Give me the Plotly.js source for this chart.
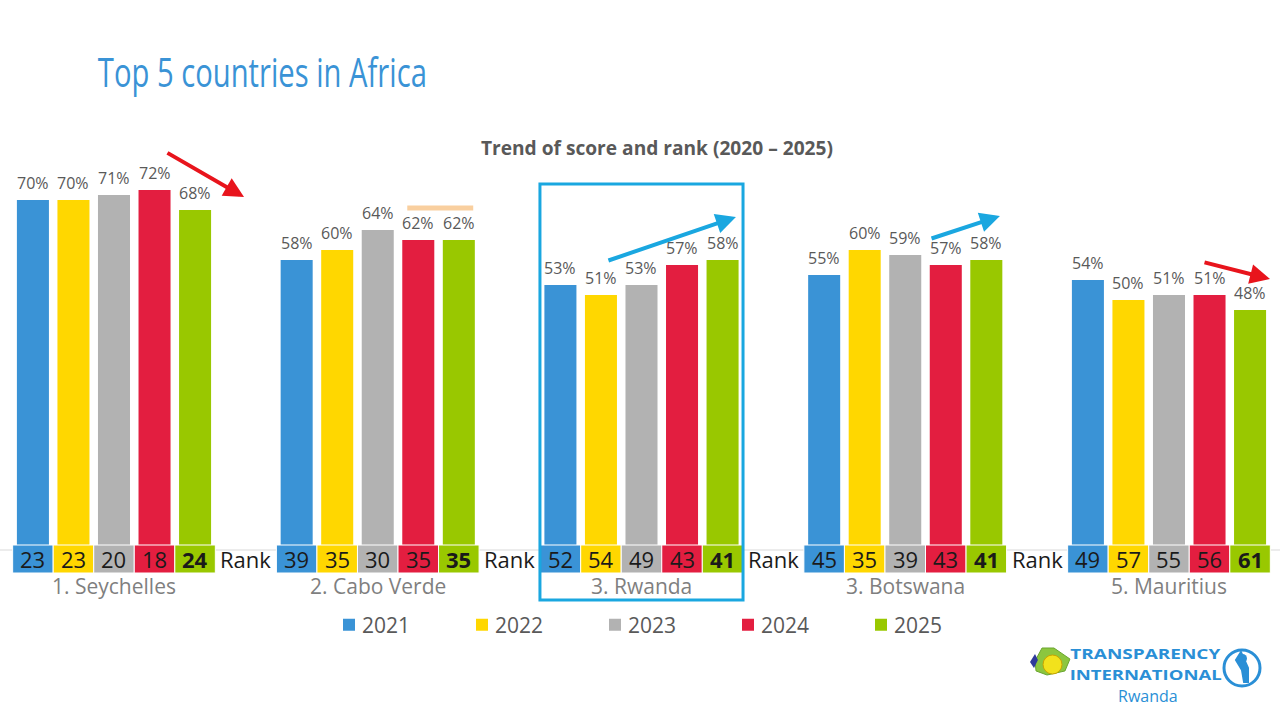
<!DOCTYPE html>
<html><head><meta charset="utf-8">
<script src="https://cdn.plot.ly/plotly-3.0.1.min.js"></script>
<style>html,body{margin:0;padding:0;background:#fff}#chart{width:1280px;height:720px}</style>
</head><body><div id="chart"></div>
<script>
const countries = ["1. Seychelles","2. Cabo Verde","3. Rwanda","3. Botswana","5. Mauritius"];
const years = ["2021","2022","2023","2024","2025"];
const scores2021 = [70,58,53,55,54];
const scores2022 = [70,60,51,60,50];
const scores2023 = [71,64,53,59,51];
const scores2024 = [72,62,57,57,51];
const scores2025 = [68,62,58,58,48];
const ranks2021 = [23,39,52,45,49];
const ranks2022 = [23,35,54,35,57];
const ranks2023 = [20,30,49,39,55];
const ranks2024 = [18,35,43,43,56];
const ranks2025 = [24,35,41,41,61];
const colors = ["#3a93d6","#ffd700","#b2b2b2","#e31e40","#99c800"];

const scores = [scores2021,scores2022,scores2023,scores2024,scores2025];
const ranks = [ranks2021,ranks2022,ranks2023,ranks2024,ranks2025];
const bargap = 0.2315;
const slot = (1-bargap)/years.length;
const FONT = "Open Sans, Noto Sans, sans-serif";

const traces = years.map((yr,j)=>({
  type:'bar', name:yr, x:countries, y:scores[j],
  marker:{color:colors[j]},
  hoverinfo:'skip'
}));

const shapes = [];
const annotations = [];
shapes.push({type:'line',xref:'paper',yref:'y',x0:0,x1:1,y0:0,y1:0,line:{color:'#d9d9d9',width:1},layer:'below'});
countries.forEach((c,i)=>{
  years.forEach((yr,j)=>{
    const xc = i + (j-2)*slot;
    annotations.push({xref:'x',yref:'y',x:xc,y:scores[j][i],yanchor:'bottom',yshift:4,text:scores[j][i]+'%',
      showarrow:false,font:{family:FONT,size:16,color:'#595959'}});
    shapes.push({type:'rect',xref:'x',yref:'y',x0:xc-slot/2,x1:xc+slot/2,y0:1,y1:-4.6,
      fillcolor:colors[j],line:{color:'#ffffff',width:1},layer:'above'});
    annotations.push({xref:'x',yref:'y',x:xc,y:-1.8,text: j===4?'<b>'+ranks[j][i]+'</b>':String(ranks[j][i]),
      showarrow:false,font:{family:FONT,size:22,color:'#1a1a1a'}});
  });
  annotations.push({xref:'x',yref:'y',x:i,y:-7.2,text:c,showarrow:false,font:{family:FONT,size:21,color:'#7f7f7f'}});
  if(i<countries.length-1){
    annotations.push({xref:'x',yref:'y',x:i+0.5,y:-1.8,text:'Rank',showarrow:false,font:{family:FONT,size:22,color:'#1a1a1a'}});
  }
});
shapes.push({type:'rect',xref:'x',yref:'y',x0:1.615,x1:2.385,y0:73.2,y1:-10,line:{color:'#1aa7e0',width:3},fillcolor:'rgba(0,0,0,0)',layer:'above'});
shapes.push({type:'line',xref:'x',yref:'y',x0:1.112,x1:1.362,y0:68.4,y1:68.4,line:{color:'#f9cf9f',width:5}});

function arrow(x0,y0,x1,y1,col){
  annotations.push({xref:'x',yref:'y',axref:'x',ayref:'y',x:x1,y:y1,ax:x0,ay:y0,text:'',showarrow:true,
    arrowhead:2,arrowsize:1,arrowwidth:4,arrowcolor:col,standoff:0,startstandoff:0});
}
arrow(0.197,79.6,0.493,70.6,'#e8141c');
arrow(1.869,57.8,2.358,66.6,'#1aa7e0');
arrow(3.094,62.2,3.359,66.8,'#1aa7e0');
arrow(4.129,57.6,4.383,54.2,'#e8141c');

const TITLE = 'Top 5 countries in Africa';
const SUBTITLE = 'Trend of score and rank (2020 – 2025)';
annotations.push({xref:'paper',yref:'paper',x:262.5/1280,y:1-72/720,xanchor:'center',yanchor:'middle',
  text:TITLE,showarrow:false,font:{family:FONT,size:40,color:'#3a93d6'}});
annotations.push({xref:'paper',yref:'paper',x:657/1280,y:1-148/720,xanchor:'center',yanchor:'middle',
  text:'<b>'+SUBTITLE+'</b>',showarrow:false,font:{family:FONT,size:20,color:'#595959'}});

annotations.push({xref:'paper',yref:'paper',x:1145.5/1280,y:1-653/720,xanchor:'center',yanchor:'middle',text:'<b>TRANSPARENCY</b>',showarrow:false,
  font:{family:FONT,size:15,color:'#2a8fd6'}});
annotations.push({xref:'paper',yref:'paper',x:1145.5/1280,y:1-674/720,xanchor:'center',yanchor:'middle',text:'<b>INTERNATIONAL</b>',showarrow:false,
  font:{family:FONT,size:15,color:'#2a8fd6'}});
annotations.push({xref:'paper',yref:'paper',x:1148/1280,y:1-696/720,xanchor:'center',yanchor:'middle',text:'Rwanda',showarrow:false,
  font:{family:FONT,size:16,color:'#2a8fd6'}});
shapes.push({type:'circle',xref:'paper',yref:'paper',x0:1224/1280,x1:1260/1280,y0:1-686/720,y1:1-650/720,line:{color:'#2a8fd6',width:3}});
shapes.push({type:'circle',xref:'paper',yref:'paper',x0:1238/1280,x1:1247/1280,y0:1-663/720,y1:1-654/720,fillcolor:'#2a8fd6',line:{width:0}});
shapes.push({type:'path',xref:'paper',yref:'paper',
  path:'M 0.9695 0.0944 L 0.9750 0.0722 L 0.9750 0.0528 L 0.9719 0.0528 L 0.9703 0.0694 L 0.9656 0.0833 Z',
  fillcolor:'#2a8fd6',line:{color:'#2a8fd6',width:2}});
shapes.push({type:'path',xref:'paper',yref:'paper',
  path:'M 0.8086 0.0819 L 0.8141 0.1000 L 0.8234 0.1000 L 0.8359 0.0847 L 0.8320 0.0681 L 0.8180 0.0625 L 0.8094 0.0681 Z',
  fillcolor:'#8cc63f',line:{color:'#6aa530',width:1}});
shapes.push({type:'circle',xref:'paper',yref:'paper',x0:1043/1280,x1:1062/1280,y0:1-674/720,y1:1-655/720,fillcolor:'#f2e21c',line:{color:'#c9a400',width:1}});
shapes.push({type:'path',xref:'paper',yref:'paper',
  path:'M 0.8078 0.0722 L 0.8109 0.0833 L 0.8086 0.0917 L 0.8047 0.0806 Z',fillcolor:'#2f3a9a',line:{width:0}});

const layout = {
  width:1280,height:720,
  margin:{l:0,r:0,t:0,b:0},
  paper_bgcolor:'#ffffff',plot_bgcolor:'#ffffff',
  barmode:'group',bargap:bargap,bargroupgap:0.21,
  xaxis:{type:'category',range:[-0.4322,4.4209],showticklabels:false,showgrid:false,zeroline:false,showline:false,fixedrange:true},
  yaxis:{range:[-34,110],visible:false,showgrid:false,zeroline:false,fixedrange:true},
  showlegend:true,
  legend:{orientation:'h',x:329/1280,y:1-625/720,xanchor:'left',yanchor:'middle',
    font:{family:FONT,size:21,color:'#595959'},entrywidth:88,entrywidthmode:'pixels',
    bgcolor:'rgba(0,0,0,0)',traceorder:'normal'},
  shapes:shapes, annotations:annotations
};

const squeeze = {};
squeeze[TITLE] = 329;
squeeze[SUBTITLE] = 352;
squeeze['TRANSPARENCY'] = 150;
squeeze['INTERNATIONAL'] = 152;
Plotly.newPlot('chart',traces,layout,{staticPlot:true,displayModeBar:false}).then(gd=>{
  gd.querySelectorAll('.annotation-text').forEach(t=>{
    const w = squeeze[t.textContent];
    if(w){ t.setAttribute('textLength',w); t.setAttribute('lengthAdjust','spacingAndGlyphs'); }
  });
  gd.querySelectorAll('.legendtext').forEach(t=>t.setAttribute('x',33));
});
</script></body></html>
